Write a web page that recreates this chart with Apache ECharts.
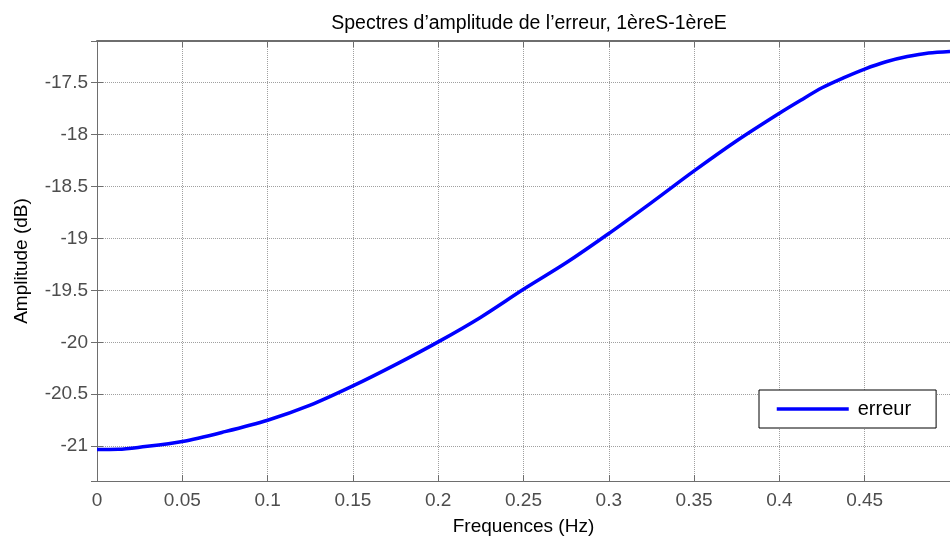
<!DOCTYPE html>
<html>
<head>
<meta charset="utf-8">
<script src="https://cdn.jsdelivr.net/npm/echarts@6/dist/echarts.min.js"></script>
<style>
html,body{margin:0;padding:0;background:#fff;}
#c{width:950px;height:542px;}
</style>
</head>
<body>
<div id="c"></div>
<script>
const titleText = "Spectres d’amplitude de l’erreur, 1èreS-1èreE";
const xName = "Frequences (Hz)";
const yName = "Amplitude (dB)";
const seriesName = "erreur";
const freqs = [0, 0.0125, 0.025, 0.05, 0.075, 0.1, 0.125, 0.15, 0.175, 0.2, 0.225, 0.25, 0.275, 0.3, 0.325, 0.35, 0.375, 0.4, 0.4125, 0.425, 0.4375, 0.45, 0.4625, 0.475, 0.4875, 0.5];
const amps = [-21.032, -21.03, -21.01, -20.955, -20.86, -20.75, -20.605, -20.42, -20.215, -19.996, -19.758, -19.49, -19.235, -18.953, -18.655, -18.35, -18.06, -17.795, -17.67, -17.55, -17.455, -17.37, -17.30, -17.25, -17.215, -17.20];
const xMin = 0, xMax = 0.5, xStep = 0.05;
const yMin = -21.335, yMax = -17.1, yStep = 0.5;

const data = freqs.map((f, i) => [f, amps[i]]);
const chart = echarts.init(document.getElementById('c'), null, {renderer: 'canvas'});
const font = 'Liberation Sans, Arial, sans-serif';
const axisColor = '#6e6e6e';
const labelColor = '#4d4d4d';
const fs = 19;
const gridLine = {show: true, lineStyle: {color: '#a0a0a0', type: 'dotted', width: 1}};
const fmt = v => String(+v.toFixed(2));

chart.setOption({
  animation: false,
  backgroundColor: '#fff',
  title: {
    text: titleText, left: 524, top: 9, textAlign: 'center',
    textStyle: {fontFamily: font, fontSize: 19.5, fontWeight: 'normal', color: '#000'}
  },
  legend: {
    data: [seriesName], left: 759, top: 390,
    orient: 'horizontal',
    backgroundColor: '#fff', borderColor: '#000', borderWidth: 1,
    padding: [9, 25, 9, 16],
    itemWidth: 72, itemHeight: 14,
    textStyle: {fontFamily: font, fontSize: 20, color: '#000', padding: [0, 0, 0, 4]},
    itemStyle: {opacity: 0},
    lineStyle: {width: 3.5, color: '#0000ff'}
  },
  grid: {left: 97, top: 41, width: 855, height: 440, containLabel: false},
  xAxis: [{
    type: 'value', min: xMin, max: xMax, interval: xStep,
    name: xName, nameLocation: 'middle', nameGap: 36,
    nameTextStyle: {fontFamily: font, fontSize: fs, color: '#000'},
    axisLine: {show: true, lineStyle: {color: axisColor, width: 1}},
    axisTick: {show: true, inside: true, length: 6, lineStyle: {color: axisColor}},
    axisLabel: {fontFamily: font, fontSize: fs, color: labelColor, margin: 10, formatter: fmt, showMaxLabel: false},
    splitLine: gridLine
  }, {
    type: 'value', position: 'top', min: xMin, max: xMax, interval: xStep,
    axisLine: {show: true, lineStyle: {color: axisColor, width: 2}},
    axisTick: {show: true, inside: true, length: 6, lineStyle: {color: axisColor}},
    axisLabel: {show: false}, splitLine: {show: false}
  }],
  yAxis: [{
    type: 'value', min: yMin, max: yMax, minInterval: yStep, maxInterval: yStep, splitNumber: 8,
    name: yName, nameLocation: 'middle', nameGap: 66, nameRotate: 90,
    nameTextStyle: {fontFamily: font, fontSize: fs, color: '#000'},
    axisLine: {show: true, lineStyle: {color: axisColor, width: 1}},
    axisTick: {show: true, inside: false, length: -6, lineStyle: {color: axisColor}},
    axisLabel: {fontFamily: font, fontSize: fs, color: labelColor, margin: 9, formatter: fmt, showMinLabel: false, showMaxLabel: false},
    splitLine: gridLine
  }, {
    type: 'value', position: 'right', min: yMin, max: yMax, minInterval: yStep, maxInterval: yStep, splitNumber: 8,
    axisLine: {show: true, lineStyle: {color: axisColor, width: 1}},
    axisTick: {show: true, inside: false, length: -6, lineStyle: {color: axisColor}},
    axisLabel: {show: false}, splitLine: {show: false}
  }],
  series: [{
    name: seriesName, type: 'line', data: data,
    xAxisIndex: 0, yAxisIndex: 0,
    smooth: 0.3, showSymbol: false, symbol: 'none',
    lineStyle: {color: '#0000ff', width: 3.5},
    itemStyle: {color: '#0000ff'}
  }]
});
</script>
</body>
</html>
